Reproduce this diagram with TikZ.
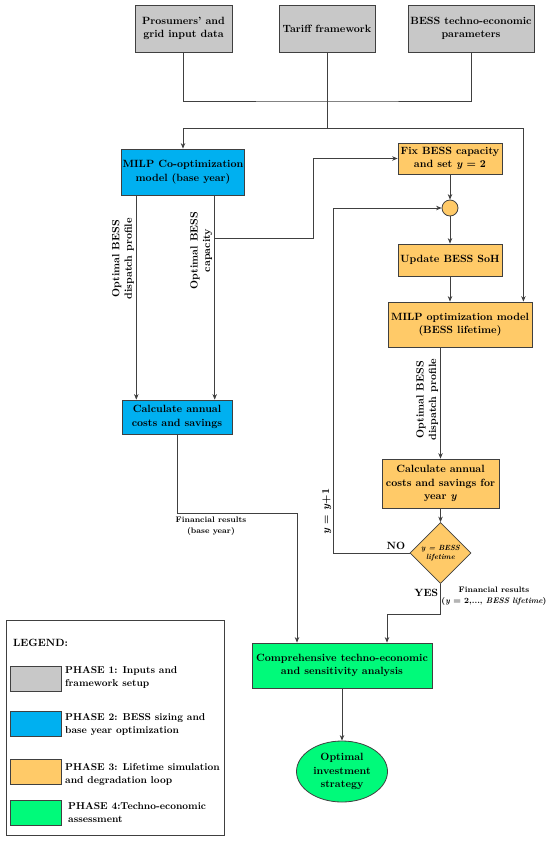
\documentclass[tikz,border=0pt]{standalone}
\usepackage{xcolor}
\usepackage{amsmath}
\usepackage{tikz}
\usetikzlibrary{shapes.geometric, arrows.meta, positioning, calc}

\definecolor{phaseone}{HTML}{C8C8C8}
\definecolor{phasetwo}{HTML}{00B0F0}
\definecolor{phasethree}{HTML}{FFCA68}
\definecolor{phasefour}{HTML}{00FA7A}
\definecolor{linec}{HTML}{404040}

\begin{document}
\begin{tikzpicture}[
    x=1pt, y=-1pt,
    block/.style={rectangle, draw=linec, line width=0.8pt, align=center, inner sep=1pt, font=\bfseries\fontsize{10.5}{13.5}\selectfont},
    inp/.style={block, fill=phaseone},
    opt/.style={block, fill=phasetwo},
    loop/.style={block, fill=phasethree},
    assess/.style={block, fill=phasefour},
    lab/.style={font=\bfseries\fontsize{10.5}{12.5}\selectfont, align=center, inner sep=2pt},
    legtext/.style={font=\bfseries\fontsize{10}{13}\selectfont, align=left, anchor=west, inner sep=1pt},
    small/.style={font=\bfseries\fontsize{8}{11}\selectfont, align=center, inner sep=1pt},
    arrow/.style={draw=linec, line width=0.7pt, -{Stealth[length=5.5pt, width=4.5pt]}},
    line/.style={draw=linec, line width=0.7pt}
]
\useasboundingbox (0,0) rectangle (550,841);

% Phase 1 inputs
\node (data) [inp, minimum width=97, minimum height=47] at (183.5,28.5) {Prosumers' and\\grid input data};
\node (tariff) [inp, minimum width=96, minimum height=47] at (327,28.5) {Tariff framework};
\node (param) [inp, minimum width=126, minimum height=47] at (471,28.5) {BESS techno-economic\\parameters};

% Phase 2 base year
\node (milp) [opt, minimum width=122, minimum height=46] at (183,172) {MILP Co-optimization\\model (base year)};
\node (calcb) [opt, minimum width=110, minimum height=34] at (177,417) {Calculate annual\\costs and savings};

% Phase 3 loop
\node (fix) [loop, minimum width=104, minimum height=31] at (450,158.5) {Fix BESS capacity\\and set \textit{y} = 2};
\node (junc) [circle, draw=linec, line width=0.8pt, fill=phasethree, minimum size=16, inner sep=0pt] at (450,208) {};
\node (soh) [loop, minimum width=104, minimum height=32] at (450,260) {Update BESS SoH};
\node (milpl) [loop, minimum width=144, minimum height=45] at (460,324.5) {MILP optimization model\\(BESS lifetime)};
\node (calcy) [loop, minimum width=117, minimum height=49] at (440.5,483.5) {Calculate annual\\costs and savings for\\year \textit{y}};
\node (check) [diamond, draw=linec, line width=0.8pt, fill=phasethree, minimum width=61, minimum height=61, inner sep=0pt, font=\bfseries\itshape\fontsize{7.5}{9}\selectfont, align=center] at (440.5,553) {\textit{y} = BESS\\lifetime};

% Phase 4
\node (comp) [assess, minimum width=180, minimum height=45] at (342,665.5) {Comprehensive techno-economic\\and sensitivity analysis};
\node (strategy) [ellipse, draw=linec, line width=0.8pt, fill=phasefour, minimum width=91, minimum height=61, inner sep=0pt, align=center, font=\bfseries\fontsize{10.5}{13.5}\selectfont] at (342,771.5) {Optimal\\investment\\strategy};

% Input bus
\coordinate (bus) at (327,101);
\coordinate (split) at (327,128);
\draw [line] (data.south) |- (bus) -| (param.south);
\draw [line] (tariff.south) -- (split);
\draw [arrow] (split) -| (milp.north);
\draw [arrow] (split) -| ([xshift=-9pt]milpl.north east);

% Base year arrows
\draw [arrow] ([xshift=15pt]milp.south west) -- node[lab, rotate=90, above, pos=0.31] {Optimal BESS\\dispatch profile} ([xshift=15pt]milp.south west |- calcb.north);
\draw [arrow] ([xshift=-30pt]milp.south east) -- node[lab, rotate=90, above, pos=0.27] {Optimal BESS\\capacity} ([xshift=-30pt]milp.south east |- calcb.north);
\coordinate (tap) at (214,238);
\draw [arrow] (tap) -- ++(99,0) |- (fix.west);

% Loop arrows
\draw [arrow] (fix.south) -- (junc.north);
\draw [arrow] (junc.south) -- (soh.north);
\draw [arrow] (soh.south) -- (soh.south |- milpl.north);
\draw [arrow] (calcy.north |- milpl.south) -- node[lab, rotate=90, above, pos=0.47] {Optimal BESS\\dispatch profile} (calcy.north);
\draw [arrow] (calcy.south) -- (check.north);
\draw [arrow] (check.west) -- node[lab, above, pos=0.18, yshift=1pt] {NO} ++(-76,0) |- node[lab, rotate=90, above, pos=0.06] {\textit{y} = \textit{y}+1} (junc.west);

% Financial results
\draw [arrow] (check.south) -- node[lab, left, pos=0.3] {YES} ++(0,30) -| ([xshift=45pt]comp.north);
\node (finy) [small, anchor=north] at (494,586) {Financial results\\(\textit{y} = 2,..., \textit{BESS lifetime})};
\draw [arrow] (calcb.south) -- ++(0,79) -| ([xshift=-45pt]comp.north);
\node (finb) [small, anchor=north] at (211,516) {Financial results\\(base year)};
\draw [arrow] (comp.south) -- (strategy.north);

% Legend
\node (legend) [rectangle, draw=linec, line width=0.8pt, minimum width=218, minimum height=215] at (115,727.5) {};
\node (legtitle) [lab, anchor=west] at (11,643) {LEGEND:};
\node (sw1) [inp, minimum width=51, minimum height=25] at (35.5,678.5) {};
\node (sw2) [opt, minimum width=51, minimum height=25] at (35.5,723.5) {};
\node (sw3) [loop, minimum width=51, minimum height=25] at (35.5,771.5) {};
\node (sw4) [assess, minimum width=51, minimum height=25] at (35.5,813) {};
\node (lt1) [legtext] at (64,677.5) {PHASE 1: Inputs and\\framework setup};
\node (lt2) [legtext] at (64,725) {PHASE 2: BESS sizing and\\base year optimization};
\node (lt3) [legtext] at (64,774.5) {PHASE 3: Lifetime simulation\\and degradation loop};
\node (lt4) [legtext] at (67,812.5) {PHASE 4:Techno-economic\\assessment};

\end{tikzpicture}
\end{document}
